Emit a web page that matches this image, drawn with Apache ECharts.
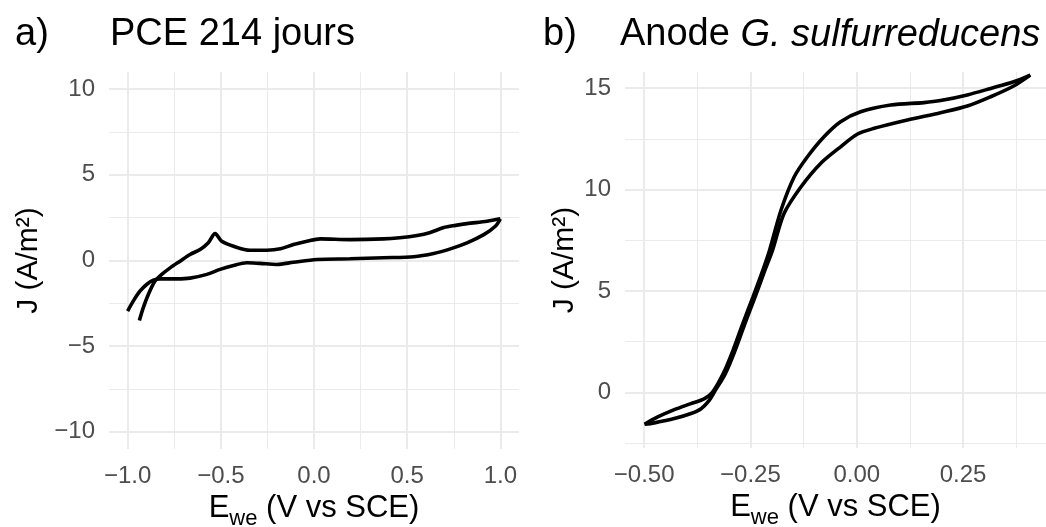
<!DOCTYPE html>
<html>
<head>
<meta charset="utf-8">
<script src="https://cdn.jsdelivr.net/npm/echarts@6/dist/echarts.min.js"></script>
<style>html,body{margin:0;padding:0;background:#fff}#c{width:1046px;height:527px}</style>
</head>
<body>
<div id="c"></div>
<script>
// a) PCE 214 jours : two branches of the voltammogram
const aFwdE = [-1.00,-0.97,-0.934,-0.898,-0.862,-0.826,-0.78,-0.737,-0.665,-0.575,-0.504,-0.432,-0.36,-0.289,-0.20,-0.11,0.016,0.194,0.373,0.535,0.642,0.732,0.821,0.911,0.973,1.00];
const aFwdJ = [-2.95,-2.37,-1.79,-1.40,-1.15,-1.07,-1.07,-1.07,-1.03,-0.81,-0.52,-0.29,-0.13,-0.17,-0.23,-0.10,0.06,0.10,0.16,0.22,0.41,0.68,1.03,1.51,2.00,2.43];
const aRevE = [1.00,0.929,0.82,0.76,0.696,0.62,0.553,0.46,0.373,0.194,0.033,-0.038,-0.11,-0.18,-0.253,-0.343,-0.432,-0.495,-0.531,-0.567,-0.611,-0.665,-0.719,-0.772,-0.817,-0.853,-0.889,-0.916,-0.937];
const aRevJ = [2.43,2.29,2.15,2.05,1.92,1.62,1.46,1.33,1.26,1.22,1.26,1.12,0.93,0.68,0.60,0.60,0.83,1.12,1.57,1.03,0.64,0.35,-0.04,-0.43,-0.81,-1.20,-1.98,-2.75,-3.50];

// b) Anode G. sulfurreducens
const bFwdE = [-0.499,-0.468,-0.429,-0.39,-0.358,-0.339,-0.314,-0.291,-0.268,-0.244,-0.221,-0.205,-0.178,-0.147,-0.116,-0.077,-0.038,0.009,0.08,0.158,0.197,0.26,0.315,0.369,0.408];
const bFwdJ = [-1.58,-1.22,-0.86,-0.56,-0.31,0.01,0.92,2.07,3.39,4.71,6.02,7.01,8.99,10.63,11.62,12.61,13.35,13.84,14.17,14.29,14.39,14.67,14.99,15.32,15.65];
const bRevE = [0.408,0.369,0.315,0.26,0.197,0.119,0.041,0.002,-0.038,-0.085,-0.131,-0.171,-0.198,-0.216,-0.239,-0.263,-0.286,-0.309,-0.335,-0.347,-0.366,-0.39,-0.429,-0.476,-0.499];
const bRevJ = [15.65,15.11,14.58,14.12,13.79,13.43,13.02,12.74,12.11,11.29,10.14,8.82,7.01,6.02,4.71,3.39,2.07,0.92,0.01,-0.40,-0.81,-1.05,-1.30,-1.51,-1.58];

// gridlines / tick labels
const aXMajor = [-1,-0.5,0,0.5,1], aXMinor = [-0.75,-0.25,0.25,0.75];
const aYMajor = [-10,-5,0,5,10], aYMinor = [-7.5,-2.5,2.5,7.5];
const bXMajor = [-0.5,-0.25,0,0.25], bXMinor = [-0.375,-0.125,0.125,0.375];
const bYMajor = [0,5,10,15], bYMinor = [-2.5,2.5,7.5,12.5];

const FONT = '"Liberation Sans", Arial, sans-serif';
const GRID = '#ebebeb', NONE = 'rgba(0,0,0,0)';

function lineColors(min,max,step,marks){
  const n = Math.round((max-min)/step), out = [];
  for(let k=0;k<=n;k++){ const v = min+k*step; out.push(marks.some(m=>Math.abs(m-v)<step/10)?GRID:NONE); }
  return out;
}
function tickFmt(marks,dec,step){
  return v=>{ const m = marks.find(t=>Math.abs(t-v)<step/10); return m===undefined?'':m.toFixed(dec).replace('-','\u2212'); };
}
// main axis (labels + major lines) and a twin for minor lines
function axisPair(gi,min,max,step,major,minor,dec,extra){
  const main = Object.assign({
    type:'value', gridIndex:gi, min, max, interval:step,
    axisLine:{show:false}, axisTick:{show:false},
    axisLabel:{formatter:tickFmt(major,dec,step), color:'#4d4d4d', fontSize:24, fontFamily:FONT, margin:15},
    splitLine:{show:true, lineStyle:{color:lineColors(min,max,step,major), width:2}}
  }, extra||{});
  const twin = {
    type:'value', gridIndex:gi, min, max, interval:step,
    axisLine:{show:false}, axisTick:{show:false}, axisLabel:{show:false},
    splitLine:{show:true, lineStyle:{color:lineColors(min,max,step,minor), width:1}}
  };
  return [main, twin];
}
const xName = {
  name:'{t|E}{s|we}{t| (V vs SCE)}', nameLocation:'middle', nameGap:36,
  nameTextStyle:{rich:{t:{fontSize:31,color:'#000',fontFamily:FONT}, s:{fontSize:22,color:'#000',fontFamily:FONT,padding:[22,0,0,0]}}}
};
function yName(gap){
  return {name:'J (A/m\u00b2)', nameLocation:'middle', nameRotate:90, nameGap:gap,
    nameTextStyle:{fontSize:30,color:'#000',fontFamily:FONT}};
}
function curve(E,J,ai){
  return {type:'line', xAxisIndex:ai, yAxisIndex:ai, data:E.map((e,i)=>[e,J[i]]),
    showSymbol:false, smooth:0.3, clip:false, lineStyle:{color:'#000', width:3.6}};
}

const titleStyle = {fontSize:38, fontWeight:'normal', color:'#000', fontFamily:FONT};
const chart = echarts.init(document.getElementById('c'));
chart.setOption({
  animation:false,
  title:[
    {text:'a)', left:15, top:16, padding:0, textStyle:titleStyle},
    {text:'PCE 214 jours', left:110, top:16, padding:0, textStyle:titleStyle},
    {text:'b)', left:543, top:16, padding:0, textStyle:titleStyle},
    {text:'{n|Anode }{i|G. sulfurreducens}', left:620, top:16, padding:0, textStyle:Object.assign({}, titleStyle, {rich:{
      n:{fontSize:38,color:'#000',fontFamily:FONT}, i:{fontSize:38,color:'#000',fontFamily:FONT,fontStyle:'italic'}}})}
  ],
  grid:[
    {left:109, top:72, width:410, height:377, containLabel:false, outerBoundsMode:'none'},
    {left:625, top:72, width:421, height:376, containLabel:false, outerBoundsMode:'none'}
  ],
  xAxis:[
    ...axisPair(0,-1.1,1.1,0.05,aXMajor,aXMinor,1,xName),
    ...axisPair(1,-0.545,0.445,0.005,bXMajor,bXMinor,2,xName)
  ],
  yAxis:[
    ...axisPair(0,-11,11,0.5,aYMajor,aYMinor,0,Object.assign(yName(65),{axisLabel:{formatter:tickFmt(aYMajor,0,0.5),color:'#4d4d4d',fontSize:24,fontFamily:FONT,margin:14}})),
    ...axisPair(1,-2.75,15.8,0.05,bYMajor,bYMinor,0,Object.assign(yName(45),{axisLabel:{formatter:tickFmt(bYMajor,0,0.05),color:'#4d4d4d',fontSize:24,fontFamily:FONT,margin:14}}))
  ],
  series:[
    curve(aFwdE,aFwdJ,0), curve(aRevE,aRevJ,0),
    curve(bFwdE,bFwdJ,2), curve(bRevE,bRevJ,2)
  ]
});
</script>
</body>
</html>
